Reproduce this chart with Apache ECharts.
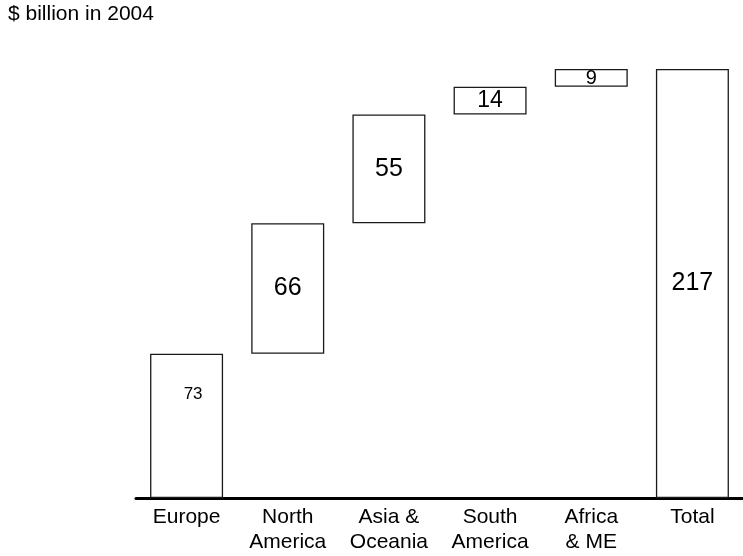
<!DOCTYPE html>
<html>
<head>
<meta charset="utf-8">
<script src="https://cdn.jsdelivr.net/npm/echarts@6/dist/echarts.min.js"></script>
<style>
  html, body { margin: 0; padding: 0; background: #fff; }
  #chart { width: 743px; height: 556px; }
</style>
</head>
<body>
<div id="chart"></div>
<script>
// Revenue by region, $ billion in 2004 (waterfall)
const categories = ['Europe', 'North\nAmerica', 'Asia &\nOceania', 'South\nAmerica', 'Africa\n& ME', 'Total'];
const values = [73, 66, 55, 14, 9, 217];
const isTotal = [false, false, false, false, false, true];

// invisible base for each floating bar: running sum of earlier regions
const bases = [];
let running = 0;
values.forEach((v, i) => {
  if (isTotal[i]) { bases.push(0); }
  else { bases.push(running); running += v; }
});

const FONT = "'Liberation Sans', Arial, Helvetica, sans-serif";

// per-bar label styling
const labelStyle = [
  { fontSize: 17, position: [43, 41], align: 'center', verticalAlign: 'middle' },
  { fontSize: 25 },
  { fontSize: 25 },
  { fontSize: 23 },
  { fontSize: 20, offset: [0, 1] },
  { fontSize: 25 }
];

const chart = echarts.init(document.getElementById('chart'), null, { renderer: 'canvas' });

chart.setOption({
  animation: false,
  backgroundColor: '#ffffff',
  title: {
    text: '$ billion in 2004',
    left: 8,
    top: 4,
    padding: 0,
    textStyle: { fontFamily: FONT, fontSize: 21, fontWeight: 'normal', color: '#000' }
  },
  grid: { left: 136, right: 0, top: 69, bottom: 58 },
  xAxis: {
    type: 'category',
    data: categories,
    axisLine: { show: true, lineStyle: { color: '#000', width: 3 } },
    axisTick: { show: false },
    axisLabel: {
      color: '#000', fontFamily: FONT, fontSize: 21, lineHeight: 25, margin: 7,
      interval: 0
    }
  },
  yAxis: {
    type: 'value',
    min: 0,
    max: 217,
    show: false,
    splitLine: { show: false }
  },
  series: [
    {
      type: 'bar',
      stack: 'w',
      barWidth: 73,
      silent: true,
      itemStyle: { color: 'rgba(0,0,0,0)' },
      data: bases
    },
    {
      type: 'bar',
      stack: 'w',
      barWidth: 73,
      itemStyle: { color: '#fff', borderColor: '#1a1a1a', borderWidth: 1.3 },
      label: {
        show: true,
        position: 'inside',
        color: '#000',
        fontFamily: FONT
      },
      data: values.map((v, i) => ({ value: v, label: Object.assign({}, labelStyle[i]) }))
    }
  ]
});
</script>
</body>
</html>
